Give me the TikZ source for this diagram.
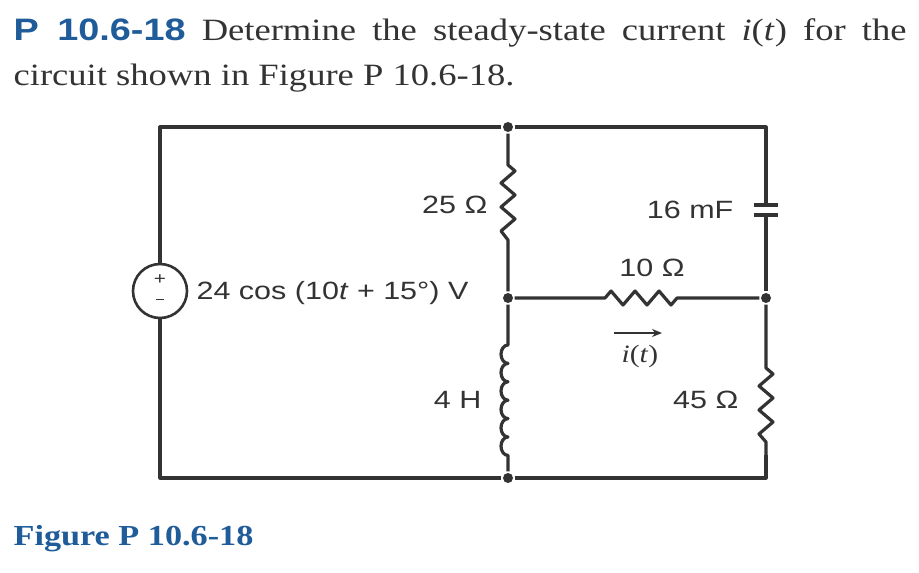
\documentclass[tikz,border=0pt]{standalone}
\usepackage{fontspec}
\setmainfont{Liberation Serif}[FakeStretch=1.18]
\setsansfont{Liberation Sans}[FakeStretch=1.22]
\usetikzlibrary{arrows.meta}
\definecolor{pblue}{HTML}{1F5C99}
\definecolor{ink}{HTML}{333333}
\begin{document}
\begin{tikzpicture}[x=1pt,y=-1pt,line width=3.2pt,draw=ink,
  wire/.style={line join=round},
  dot/.style={circle,fill=ink,inner sep=0pt,minimum size=10pt},
  lbl/.style={font=\sffamily\fontsize{25}{27}\selectfont,text=ink,inner sep=1pt}]
\useasboundingbox (0,0) rectangle (919,573);
% header
\node[anchor=base west,inner sep=0,text=ink] (h1) at (12,40) {\makebox[893pt][s]{\fontsize{31}{34}\selectfont{\sffamily\bfseries\color{pblue}P~10.6-18} Determine the steady-state current \textit{i}(\textit{t}) for the}};
\node[anchor=base west,inner sep=0,text=ink] (h2) at (12,85) {\fontsize{31}{34}\selectfont circuit shown in Figure P 10.6-18.};
\node[anchor=base west,inner sep=0,text=pblue] (fig) at (12,545) {\fontsize{29}{32}\selectfont\bfseries Figure P 10.6-18};
% nodes
\coordinate (tl) at (160,127); \coordinate (bl) at (160,478);
\coordinate (tr) at (766,127); \coordinate (br) at (766,478);
\node[dot] (ntop) at (508,127) {};
\node[dot] (nmid) at (508,298) {};
\node[dot] (nright) at (766,298) {};
\node[dot] (nbot) at (508,478) {};
% source
\node[circle,draw=ink,line width=2.6pt,minimum size=54pt,inner sep=0] (src) at (160,291) {};
\node[inner sep=0,text=ink,font=\sffamily\fontsize{17}{17}\selectfont] at (160,280) {+};
\node[inner sep=0,text=ink,font=\sffamily\fontsize{17}{17}\selectfont] at (160,302) {\rule[0.3em]{0.5em}{1.2pt}};
\draw[wire] (src.north) -- (tl) -- (ntop) -- (tr) -- (766,205);
\draw[wire] (src.south) -- (bl) -- (nbot) -- (br) -- (766,455);
% capacitor
\draw (754,205) -- (778,205);
\draw (754,215) -- (778,215);
\draw[wire] (766,215) -- (nright);
% 25 ohm
\draw[wire] (ntop) -- (508,165) -- (515,171) -- (501,183) -- (515,195) -- (501,207) -- (515,219) -- (501,231) -- (508,240) -- (nmid);
% 10 ohm
\draw[wire] (nmid) -- (605,298) -- (611,291) -- (623,305) -- (635,291) -- (647,305) -- (659,291) -- (671,305) -- (677,298) -- (nright);
% 45 ohm
\draw[wire] (nright) -- (766,368) -- (773,374) -- (759,386) -- (773,398) -- (759,410) -- (773,422) -- (759,434) -- (766,442) -- (br);
% inductor
\draw[wire] (nmid) -- (508,345)
  arc[start angle=90,end angle=270,x radius=7pt,y radius=9.2pt]
  arc[start angle=90,end angle=270,x radius=7pt,y radius=9.2pt]
  arc[start angle=90,end angle=270,x radius=7pt,y radius=9.2pt]
  arc[start angle=90,end angle=270,x radius=7pt,y radius=9.2pt]
  arc[start angle=90,end angle=270,x radius=7pt,y radius=9.2pt]
  arc[start angle=90,end angle=270,x radius=7pt,y radius=9.2pt]
  -- (nbot);
% arrow
\draw[-{Stealth[length=10pt,width=8pt]},line width=2pt] (614,333) -- (662,333);
% labels
\node[lbl,anchor=east] at (490,205) {25 Ω};
\node[lbl,anchor=east] at (736,210) {16 mF};
\node[lbl] at (652,268) {10 Ω};
\node[lbl] at (640,356) {\rmfamily\textit{i}(\textit{t})};
\node[lbl,anchor=east] at (484,400) {4 H};
\node[lbl,anchor=east] at (741,400) {45 Ω};
\node[lbl,anchor=west] at (194,293) {24 cos (10\textit{t} + 15°) V};
\end{tikzpicture}
\end{document}
